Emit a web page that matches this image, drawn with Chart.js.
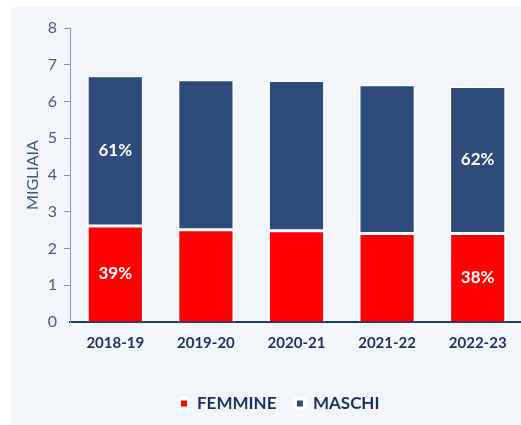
<!DOCTYPE html>
<html>
<head>
<meta charset="utf-8">
<script src="https://cdn.jsdelivr.net/npm/chart.js@4"></script>
<style>
  html, body { margin: 0; padding: 0; background: #ffffff; overflow: hidden; width: 521px; height: 425px; }
  #bg { position: absolute; left: 11px; top: 7px; width: 520px; height: 430px; background: #F3F6FB; }
  #c { position: absolute; left: 0; top: 0; }
</style>
</head>
<body>
<div id="bg"></div>
<canvas id="c" width="525" height="422" style="width:525px;height:422px"></canvas>
<script>
// ---- data ----
const categories = ['2018-19', '2019-20', '2020-21', '2021-22', '2022-23'];
const femmine = [2.61, 2.51, 2.48, 2.405, 2.41];
const maschi  = [4.09, 4.08, 4.09, 4.05, 4.00];
const seriesNames = ['FEMMINE', 'MASCHI'];
const yTicks = [0, 1, 2, 3, 4, 5, 6, 7, 8];
const labelledBars = [0, 4];
const axisTitle = 'MIGLIAIA';

const RED = '#FF0000';
const BLUE = '#2F4B7C';
const NAVY = '#1F2F5E';
const TICK = '#4A5B80';
const FONT = 'Lato, "Open Sans", sans-serif';

const pctLabels = {
  id: 'pctLabels',
  afterDatasetsDraw(chart) {
    const ctx = chart.ctx;
    ctx.save();
    ctx.fillStyle = '#ffffff';
    ctx.font = 'bold 17px ' + FONT;
    ctx.textAlign = 'center';
    ctx.textBaseline = 'middle';
    chart.data.datasets.forEach((ds, di) => {
      const meta = chart.getDatasetMeta(di);
      labelledBars.forEach(i => {
        const el = meta.data[i];
        const total = femmine[i] + maschi[i];
        const pct = Math.round(ds.data[i] / total * 100) + '%';
        ctx.fillText(pct, el.x, (el.y + el.base) / 2);
      });
    });
    ctx.restore();
  }
};

const legendShift = {
  id: 'legendShift',
  afterLayout(chart) {
    if (chart.legend) { chart.legend.left += 9; chart.legend.right += 9; }
  }
};

new Chart(document.getElementById('c'), {
  type: 'bar',
  data: {
    labels: categories,
    datasets: [
      { label: seriesNames[0], data: femmine, backgroundColor: RED, borderColor: '#ffffff', borderWidth: 1.5, borderSkipped: 'bottom',
        barPercentage: 0.62, categoryPercentage: 1 },
      { label: seriesNames[1], data: maschi, backgroundColor: BLUE, borderColor: '#ffffff', borderWidth: 1.5, borderSkipped: false,
        barPercentage: 0.62, categoryPercentage: 1 }
    ]
  },
  options: {
    responsive: false,
    animation: false,
    devicePixelRatio: 1,
    layout: { padding: { left: 18, top: 28, right: 2, bottom: 0 } },
    plugins: {
      tooltip: { enabled: false },
      legend: {
        position: 'bottom',
        labels: {
          boxWidth: 9, boxHeight: 9, padding: 19,
          color: NAVY,
          font: { family: FONT, size: 17, weight: 'bold' },
          generateLabels(chart) {
            const items = Chart.defaults.plugins.legend.labels.generateLabels(chart);
            items.forEach(it => { it.lineWidth = 3; it.strokeStyle = '#ffffff'; });
            return items;
          }
        }
      }
    },
    scales: {
      x: {
        stacked: true,
        grid: { display: false, drawTicks: false },
        border: { display: true, color: '#1F3864', width: 2 },
        ticks: { color: NAVY, padding: 12, font: { family: FONT, size: 15, weight: 'bold' } },
        afterFit(s) { s.height = 54; }
      },
      y: {
        stacked: true,
        min: 0, max: 8,
        afterBuildTicks(s) { s.ticks = yTicks.map(v => ({ value: v })); },
        grid: { drawOnChartArea: false, drawTicks: true, tickLength: 6,
                color: ctx => (ctx.tick && ctx.tick.value === 0) ? 'rgba(0,0,0,0)' : '#8496B8' },
        border: { display: true, color: '#8496B8', width: 1 },
        ticks: { color: TICK, padding: 7, font: { family: FONT, size: 16 } },
        title: { display: true, text: axisTitle, color: '#3D5587', padding: { top: 5, bottom: 0 },
                 font: { family: FONT, size: 16 } },
        afterFit(s) { s.width = 52; }
      }
    }
  },
  plugins: [pctLabels, legendShift]
});
</script>
</body>
</html>
